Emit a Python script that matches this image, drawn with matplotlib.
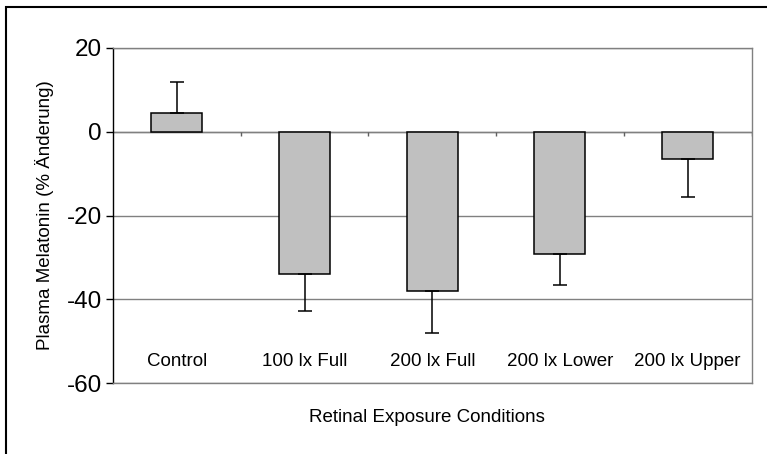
import matplotlib.pyplot as plt
import numpy as np
from matplotlib.patches import Rectangle

plt.rcParams['font.family'] = ['Liberation Sans', 'DejaVu Sans']
plt.rcParams['axes.unicode_minus'] = False

# Werte
categories = ['Control', '100 lx Full', '200 lx Full', '200 lx Lower', '200 lx Upper']
values = [4.5, -33.9, -38.1, -29.2, -6.5]
err = [7.4, 9.0, 10.0, 7.4, 9.2]
y_ticks = [20, 0, -20, -40, -60]

fig = plt.figure(figsize=(7.67, 4.54), dpi=100)
ax = fig.add_axes([113 / 767, 71 / 454, 638.5 / 767, 335 / 454])

x = np.arange(len(categories))
# Fehlerbalken nur in Richtung weg von Null
lower = [e if v < 0 else 0 for v, e in zip(values, err)]
upper = [e if v >= 0 else 0 for v, e in zip(values, err)]

ax.bar(x, values, width=0.4, color='#C0C0C0', edgecolor='black', linewidth=1.1, zorder=3)
ax.errorbar(x, values, yerr=[lower, upper], fmt='none', ecolor='black',
            elinewidth=1.1, capsize=4.7, capthick=1.1, zorder=4)

ax.set_xlim(-0.5, len(categories) - 0.5)
ax.set_ylim(-60, 20)
ax.set_yticks(y_ticks)
ax.set_yticklabels([str(t) for t in y_ticks], fontsize=17.5)
ax.tick_params(axis='y', direction='out', length=5, width=1, color='black', pad=3)
ax.set_xticks([])

ax.yaxis.grid(True, color='#808080', linewidth=1.0)
ax.set_axisbelow(True)
for s in ['top', 'right', 'bottom']:
    ax.spines[s].set_color('#808080')
    ax.spines[s].set_linewidth(1.0)
ax.spines['left'].set_color('black')
ax.spines['left'].set_linewidth(1.0)

# Null-Linie mit kleinen Teilstrichen zwischen den Kategorien
ax.axhline(0, color='#808080', linewidth=1.0, zorder=2)
ax.vlines(x + 0.5, -1.0, 0, color='#606060', linewidth=1.0, zorder=2)

for xi, name in zip(x, categories):
    ax.text(xi, -54.8, name, ha='center', va='center', fontsize=13.5)

ax.set_ylabel('Plasma Melatonin (% Änderung)', fontsize=13.5)
ax.yaxis.set_label_coords((54 - 113) / 638.5, 0.5)
fig.text(427 / 767, 1 - 418 / 454, 'Retinal Exposure Conditions',
         ha='center', va='center', fontsize=13.5)

# Rahmen der Grafik (nur links und oben sichtbar)
fig.add_artist(Rectangle((6 / 767, -0.5), 2.0, 1.5 - 7 / 454, transform=fig.transFigure,
                         fill=False, edgecolor='black', linewidth=1.5))

fig.savefig('out.png', dpi=100)
